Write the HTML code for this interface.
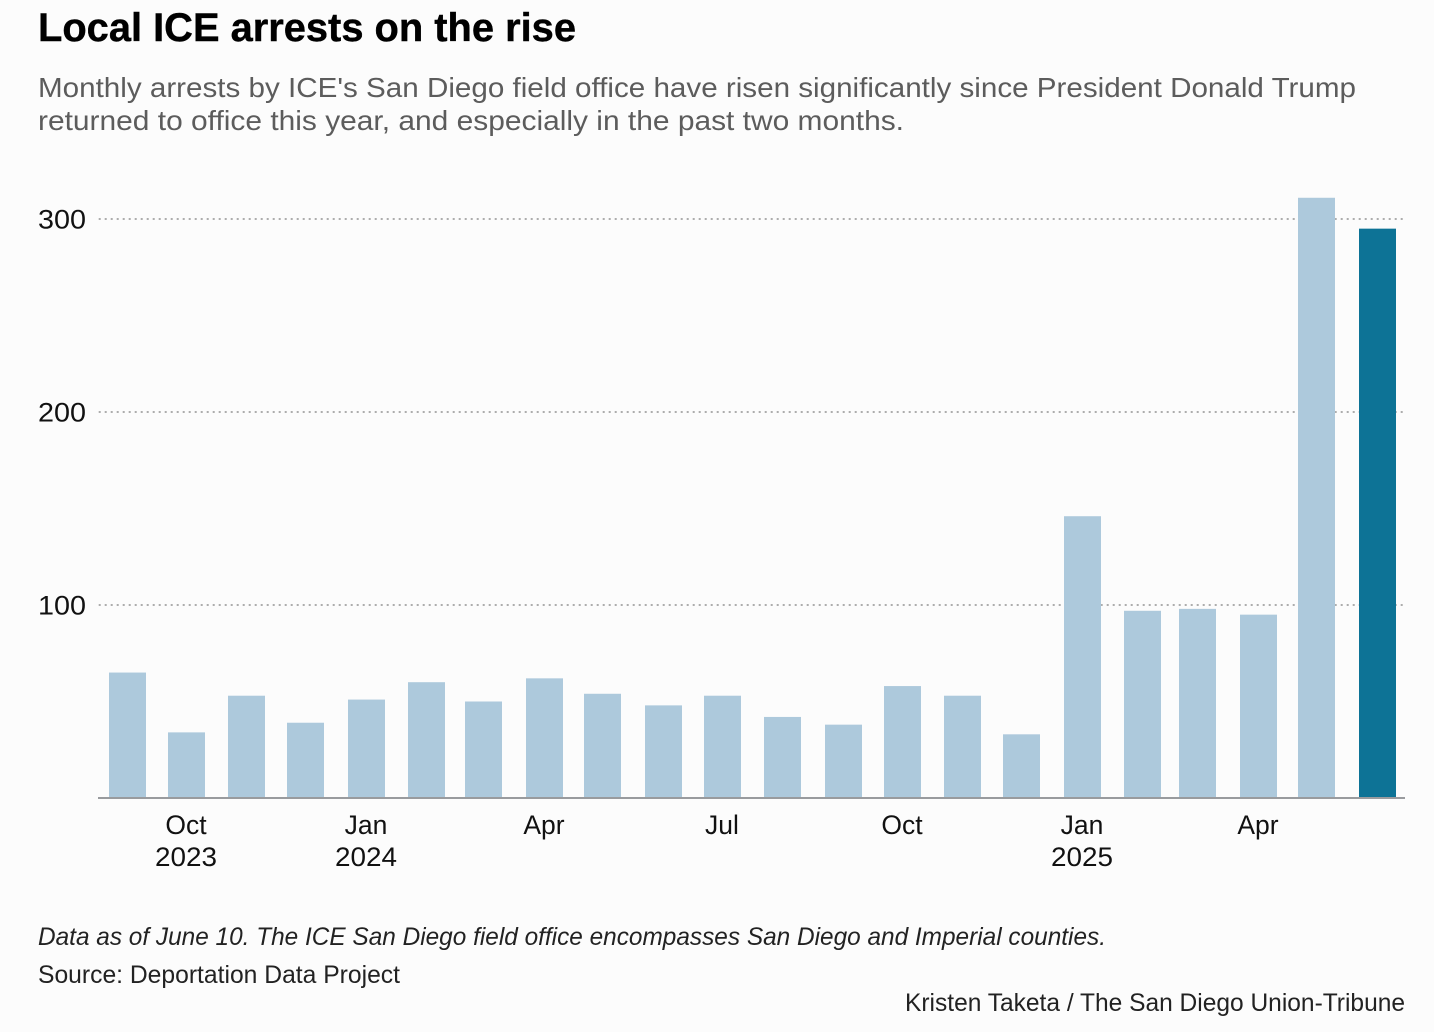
<!DOCTYPE html>
<html lang="en">
<head>
<meta charset="utf-8">
<title>Local ICE arrests on the rise</title>
<style>
html,body{margin:0;padding:0;background:#fcfcfc;}
svg{display:block;font-family:"Liberation Sans",sans-serif;}
</style>
</head>
<body>
<svg id="chart" xmlns="http://www.w3.org/2000/svg" width="1434" height="1032" viewBox="0 0 1434 1032">
  <rect width="1434" height="1032" fill="#fcfcfc"/>
  <text x="38" y="41" font-size="40" font-weight="700" fill="#000" stroke="#000" stroke-width="0.4" textLength="538" lengthAdjust="spacingAndGlyphs">Local ICE arrests on the rise</text>
  <text x="38" y="97" font-size="28" fill="#5c5c5c" textLength="1318" lengthAdjust="spacingAndGlyphs">Monthly arrests by ICE's San Diego field office have risen significantly since President Donald Trump</text>
  <text x="38" y="130" font-size="28" fill="#5c5c5c" textLength="866" lengthAdjust="spacingAndGlyphs">returned to office this year, and especially in the past two months.</text>
  <g id="grid"></g>
  <g id="bars"></g>
  <line x1="98" x2="1405" y1="798" y2="798" stroke="#999b9e" stroke-width="2"/>
  <g id="y-ticks"></g>
  <g id="x-ticks"></g>
  <text x="38" y="945" font-size="25" font-style="italic" fill="#222" textLength="1068" lengthAdjust="spacingAndGlyphs">Data as of June 10. The ICE San Diego field office encompasses San Diego and Imperial counties.</text>
  <text x="38" y="983" font-size="25" fill="#222" textLength="362" lengthAdjust="spacingAndGlyphs">Source: Deportation Data Project</text>
  <text x="905" y="1011" font-size="25" fill="#222" textLength="500" lengthAdjust="spacingAndGlyphs">Kristen Taketa / The San Diego Union-Tribune</text>
</svg>
<script>
const months = ["2023-09-01","2023-10-01","2023-11-01","2023-12-01","2024-01-01","2024-02-01","2024-03-01","2024-04-01","2024-05-01","2024-06-01","2024-07-01","2024-08-01","2024-09-01","2024-10-01","2024-11-01","2024-12-01","2025-01-01","2025-02-01","2025-03-01","2025-04-01","2025-05-01","2025-06-01"];
const arrests = [65,34,53,39,51,60,50,62,54,48,53,42,38,58,53,33,146,97,98,95,311,295];
const yTickValues = [100,200,300];
const xTickDates = ["2023-10-01","2024-01-01","2024-04-01","2024-07-01","2024-10-01","2025-01-01","2025-04-01"];
const xTickMonths = ["Oct","Jan","Apr","Jul","Oct","Jan","Apr"];
const xTickYears = ["2023","2024","","","","2025",""];

const NS = "http://www.w3.org/2000/svg";
const BASE_Y = 798;
const PX_PER_UNIT = 1.93;
const BAR_W = 37;
const X0 = 109;
const PX_PER_DAY = 1250 / 639;
const T0 = Date.parse(months[0]);

function xScale(dateStr) {
  return Math.round(X0 + (Date.parse(dateStr) - T0) / 86400000 * PX_PER_DAY);
}
function yScale(v) {
  return BASE_Y - v * PX_PER_UNIT;
}

const gridGroup = document.getElementById("grid");
const yTickGroup = document.getElementById("y-ticks");
yTickValues.forEach(function (v) {
  const y = Math.round(yScale(v));
  const line = document.createElementNS(NS, "line");
  
  
  line.setAttribute("x1", 98.7);
  line.setAttribute("x2", 1403);
  line.setAttribute("y1", y);
  line.setAttribute("y2", y);
  line.setAttribute("stroke", "#adadad");
  line.setAttribute("stroke-width", 2);
  line.setAttribute("stroke-dasharray", "2 4");
  gridGroup.appendChild(line);
  const label = document.createElementNS(NS, "text");
  
  
  label.setAttribute("x", 38);
  label.setAttribute("y", y + 9.5);
  label.setAttribute("font-size", 26.5);
  label.setAttribute("fill", "#111");
  label.setAttribute("textLength", 48);
  label.setAttribute("lengthAdjust", "spacingAndGlyphs");
  label.textContent = String(v);
  yTickGroup.appendChild(label);
});

const barGroup = document.getElementById("bars");
months.forEach(function (m, i) {
  const rect = document.createElementNS(NS, "rect");
  
  
  rect.setAttribute("x", xScale(m));
  rect.setAttribute("y", yScale(arrests[i]));
  rect.setAttribute("width", BAR_W);
  rect.setAttribute("height", BASE_Y - yScale(arrests[i]));
  rect.setAttribute("fill", i === months.length - 1 ? "#0d7396" : "#adc9dc");
  barGroup.appendChild(rect);
});

const xTickGroup = document.getElementById("x-ticks");
xTickDates.forEach(function (d, i) {
  const cx = xScale(d) + BAR_W / 2 - 0.5;
  const month = document.createElementNS(NS, "text");
  
  
  month.setAttribute("x", cx);
  month.setAttribute("y", 834);
  month.setAttribute("font-size", 26.5);
  month.setAttribute("fill", "#111");
  month.setAttribute("text-anchor", "middle");
  month.textContent = xTickMonths[i];
  xTickGroup.appendChild(month);
  if (xTickYears[i]) {
    const year = document.createElementNS(NS, "text");
    
    
    year.setAttribute("x", cx);
    year.setAttribute("y", 866);
    year.setAttribute("font-size", 26.5);
    year.setAttribute("fill", "#111");
    year.setAttribute("text-anchor", "middle");
    year.setAttribute("textLength", 62);
    year.setAttribute("lengthAdjust", "spacingAndGlyphs");
    year.textContent = xTickYears[i];
    xTickGroup.appendChild(year);
  }
});
</script>
</body>
</html>
